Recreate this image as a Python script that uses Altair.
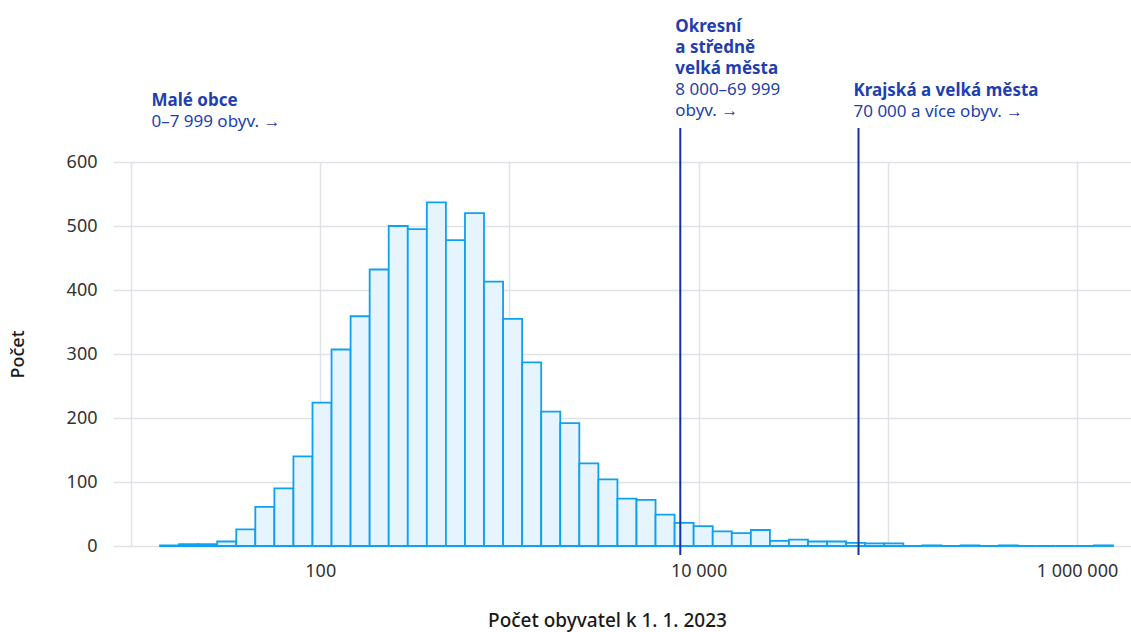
import altair as alt
import pandas as pd
import numpy as np

# ---- data ----
bin_low = 14.23          # lower edge of first bin (inhabitants)
bin_high = 1549000       # upper edge of last bin
counts = [1, 3, 3, 7, 26, 61, 90, 140, 224, 307,
          359, 432, 500, 495, 537, 478, 520, 413, 355, 287,
          210, 192, 129, 104, 74, 72, 49, 36, 31, 23,
          20, 25, 8, 10, 7, 7, 5, 4, 4, 0,
          1, 0, 1, 0, 1, 0, 0, 0, 0, 1]

x_ticks = [10, 100, 1000, 10000, 100000, 1000000]
x_labels = {100: "100", 10000: "10 000", 1000000: "1 000 000"}
y_ticks = list(range(0, 601, 50))
y_labels = [0, 100, 200, 300, 400, 500, 600]

thresholds = [8000, 70000]
rule_y = [-14, 653]

ann_x = [13.62, 8000, 70000]
ann_bold = ["Malé obce", "Okresní\na středně\nvelká města", "Krajská a velká města"]
ann_bold_y = [687, 803, 703]
ann_norm = ["0–7 999 obyv. →", "8 000–69 999\nobyv. →", "70 000 a více obyv. →"]
ann_norm_y = [654, 704, 670]

# ---- tables ----
n = len(counts)
edges = np.logspace(np.log10(bin_low), np.log10(bin_high), n + 1)
hist = pd.DataFrame({"x0": edges[:-1], "x1": edges[1:], "count": counts})
rules = pd.DataFrame({"x": thresholds, "y0": [rule_y[0]] * 2, "y1": [rule_y[1]] * 2})
ann = pd.DataFrame({"x": ann_x, "bold": ann_bold, "by": ann_bold_y,
                    "norm": ann_norm, "ny": ann_norm_y})

FONT = "Noto Sans"
BLUE_TXT = "#1f3fae"
BLUE_LINE = "#1b2fa3"

label_expr = " : ".join(f"datum.value == {k} ? '{v}'" for k, v in x_labels.items()) + " : ''"
ylabel_expr = "indexof([" + ",".join(str(v) for v in y_labels) + "], datum.value) >= 0 ? datum.label : ''"

xscale = alt.Scale(type="log", domain=[8.03, 1929000], nice=False)
yscale = alt.Scale(domain=[0, 600], nice=False)

bars = alt.Chart(hist).mark_rect(
    fill="#e6f4fd", stroke="#0ea1ef", strokeWidth=1.8
).encode(
    x=alt.X("x0:Q", scale=xscale,
            axis=alt.Axis(values=x_ticks, labelExpr=label_expr,
                          title="Počet obyvatel k 1. 1. 2023",
                          ticks=False, domain=False, labelPadding=16,
                          titleX=494, titleAlign="center",
                          titleY=80, titleBaseline="alphabetic", titleFontSize=19)),
    x2="x1:Q",
    y=alt.Y("count:Q", scale=yscale,
            axis=alt.Axis(values=y_ticks, labelExpr=ylabel_expr, title="Počet",
                          ticks=False, domain=False, labelPadding=16,
                          titleX=-95, titleY=192, titleBaseline="middle")),
    y2=alt.datum(0),
)

vlines = alt.Chart(rules).mark_rule(color=BLUE_LINE, strokeWidth=2).encode(
    x=alt.X("x:Q", scale=xscale),
    y=alt.Y("y0:Q", scale=yscale),
    y2="y1:Q",
)

def ann_layer(field, yfield, weight):
    return alt.Chart(ann).mark_text(
        align="left", baseline="alphabetic", font=FONT, fontSize=17, dx=-5,
        fontWeight=weight, color=BLUE_TXT, lineBreak="\n", lineHeight=21
    ).encode(
        x=alt.X("x:Q", scale=xscale),
        y=alt.Y(f"{yfield}:Q", scale=yscale),
        text=f"{field}:N",
    )

chart = alt.layer(
    bars, vlines, ann_layer("bold", "by", "bold"), ann_layer("norm", "ny", "normal")
).properties(
    width=1018, height=384,
    autosize=alt.AutoSizeParams(type="none"),
    padding={"left": 113, "top": 162, "right": 0, "bottom": 86},
).configure_view(stroke=None).configure_axis(
    grid=True, gridColor="#dfe2e6", gridWidth=1.5,
    labelFont=FONT, labelFontSize=18, labelColor="#333333",
    titleFont=FONT, titleFontSize=18, titleFontWeight=500, titleColor="#1a1a1a",
)

chart.save("out.html", embed_options={"renderer": "svg", "actions": False})
